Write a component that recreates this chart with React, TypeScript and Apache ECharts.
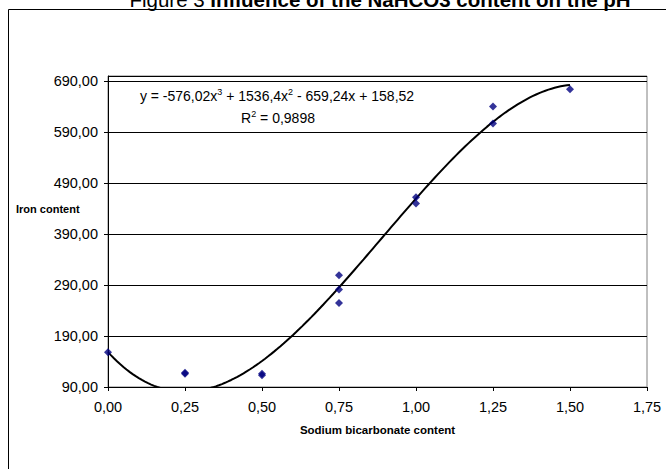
import React, { useEffect, useRef } from "react";
import * as echarts from "echarts";

const sodium = [0, 0.25, 0.25, 0.5, 0.5, 0.75, 0.75, 0.75, 1.0, 1.0, 1.25, 1.25, 1.5];
const iron = [158, 116, 118, 113, 116, 309, 281, 255, 462, 450, 640, 607, 674];
// trendline coefficients shown on the chart: y = a x^3 + b x^2 + c x + d
const coef = [-576.02, 1536.4, -659.24, 158.52];
const trendStart = 0;
const trendEnd = 1.5;
const xTicks = [0, 0.25, 0.5, 0.75, 1.0, 1.25, 1.5, 1.75];
const yTicks = [90, 190, 290, 390, 490, 590, 690];

const fmt = (v: number) => v.toFixed(2).replace(".", ",");

export default function App() {
  const ref = useRef<HTMLDivElement>(null);
  useEffect(() => {
    if (!ref.current) return;
    const chart = echarts.init(ref.current, undefined, { renderer: "svg" });
    const trend: number[][] = [];
    const steps = 150;
    for (let i = 0; i <= steps; i++) {
      const x = trendStart + ((trendEnd - trendStart) * i) / steps;
      const y = coef[0] * x ** 3 + coef[1] * x ** 2 + coef[2] * x + coef[3];
      trend.push([x, y]);
    }
    const font = "Arial, 'Liberation Sans', sans-serif";
    const sup = { fontFamily: font, fontSize: 9, color: "#000", verticalAlign: "top", lineHeight: 16, padding: [0, 0, 7, 0] };
    const base = { fontFamily: font, fontSize: 14, color: "#000", verticalAlign: "bottom", lineHeight: 16 };
    chart.setOption({
      animation: false,
      backgroundColor: "#fff",
      grid: {
        left: 108,
        right: 19,
        top: 76,
        bottom: 82,
        show: true,
        borderColor: "#808080",
        borderWidth: 1,
        containLabel: false,
      },
      xAxis: {
        type: "value",
        min: xTicks[0],
        max: xTicks[xTicks.length - 1],
        interval: 0.25,
        name: "Sodium bicarbonate content",
        nameLocation: "middle",
        nameGap: 37,
        nameTextStyle: { fontFamily: font, fontSize: 11.5, fontWeight: "bold", color: "#000" },
        axisLine: { show: true, lineStyle: { color: "#000", width: 1 } },
        axisTick: { show: true, inside: false, length: 4, lineStyle: { color: "#000" } },
        axisLabel: { fontFamily: font, fontSize: 14.5, color: "#000", margin: 12, formatter: (v: number) => fmt(v) },
        splitLine: { show: false },
      },
      yAxis: {
        type: "value",
        min: yTicks[0],
        max: 700,
        interval: 100,
        axisLine: { show: true, lineStyle: { color: "#000", width: 1 } },
        axisTick: { show: true, inside: false, length: 4, lineStyle: { color: "#000" } },
        axisLabel: {
          fontFamily: font,
          fontSize: 14.5,
          color: "#000",
          margin: 10,
          showMaxLabel: false,
          formatter: (v: number) => (yTicks.includes(v) ? fmt(v) : ""),
        },
        splitLine: { show: true, lineStyle: { color: "#000", width: 1 } },
      },
      graphic: [
        {
          type: "rect",
          shape: { x: 8.5, y: 9.5, width: 700, height: 500 },
          style: { fill: "none", stroke: "#000", lineWidth: 1 },
          silent: true,
        },
        {
          type: "text",
          x: 380,
          y: 10,
          style: {
            text: "{n|Figure 3 }{b|Influence of the NaHCO3 content on the pH}",
            align: "center",
            verticalAlign: "bottom",
            rich: {
              n: { fontFamily: font, fontSize: 20.5, color: "#000", lineHeight: 22 },
              b: { fontFamily: font, fontSize: 20.5, fontWeight: "bold", color: "#000", lineHeight: 22 },
            },
          },
        },
        {
          type: "text",
          x: 16,
          y: 203,
          style: { text: "Iron content", fontFamily: font, fontSize: 11, fontWeight: "bold", fill: "#000" },
        },
        {
          type: "text",
          x: 277,
          y: 87,
          style: {
            text: "{t|y = -576,02x}{s|3}{t| + 1536,4x}{s|2}{t| - 659,24x + 158,52}",
            align: "center",
            rich: { t: base, s: sup },
          },
        },
        {
          type: "text",
          x: 278,
          y: 109,
          style: {
            text: "{t|R}{s|2}{t| = 0,9898}",
            align: "center",
            rich: { t: base, s: sup },
          },
        },
      ],
      series: [
        {
          type: "line",
          data: trend,
          showSymbol: false,
          smooth: false,
          clip: true,
          lineStyle: { color: "#000", width: 2 },
          z: 2,
        },
        {
          type: "scatter",
          data: sodium.map((x, i) => [x, iron[i]]),
          symbol: "diamond",
          symbolSize: 8,
          itemStyle: { color: "#000080" },
          z: 3,
        },
      ],
    });
    return () => chart.dispose();
  }, []);
  return (
    <div
      ref={ref}
      style={{ position: "absolute", left: 0, top: 0, width: 666, height: 469, overflow: "hidden" }}
    />
  );
}
